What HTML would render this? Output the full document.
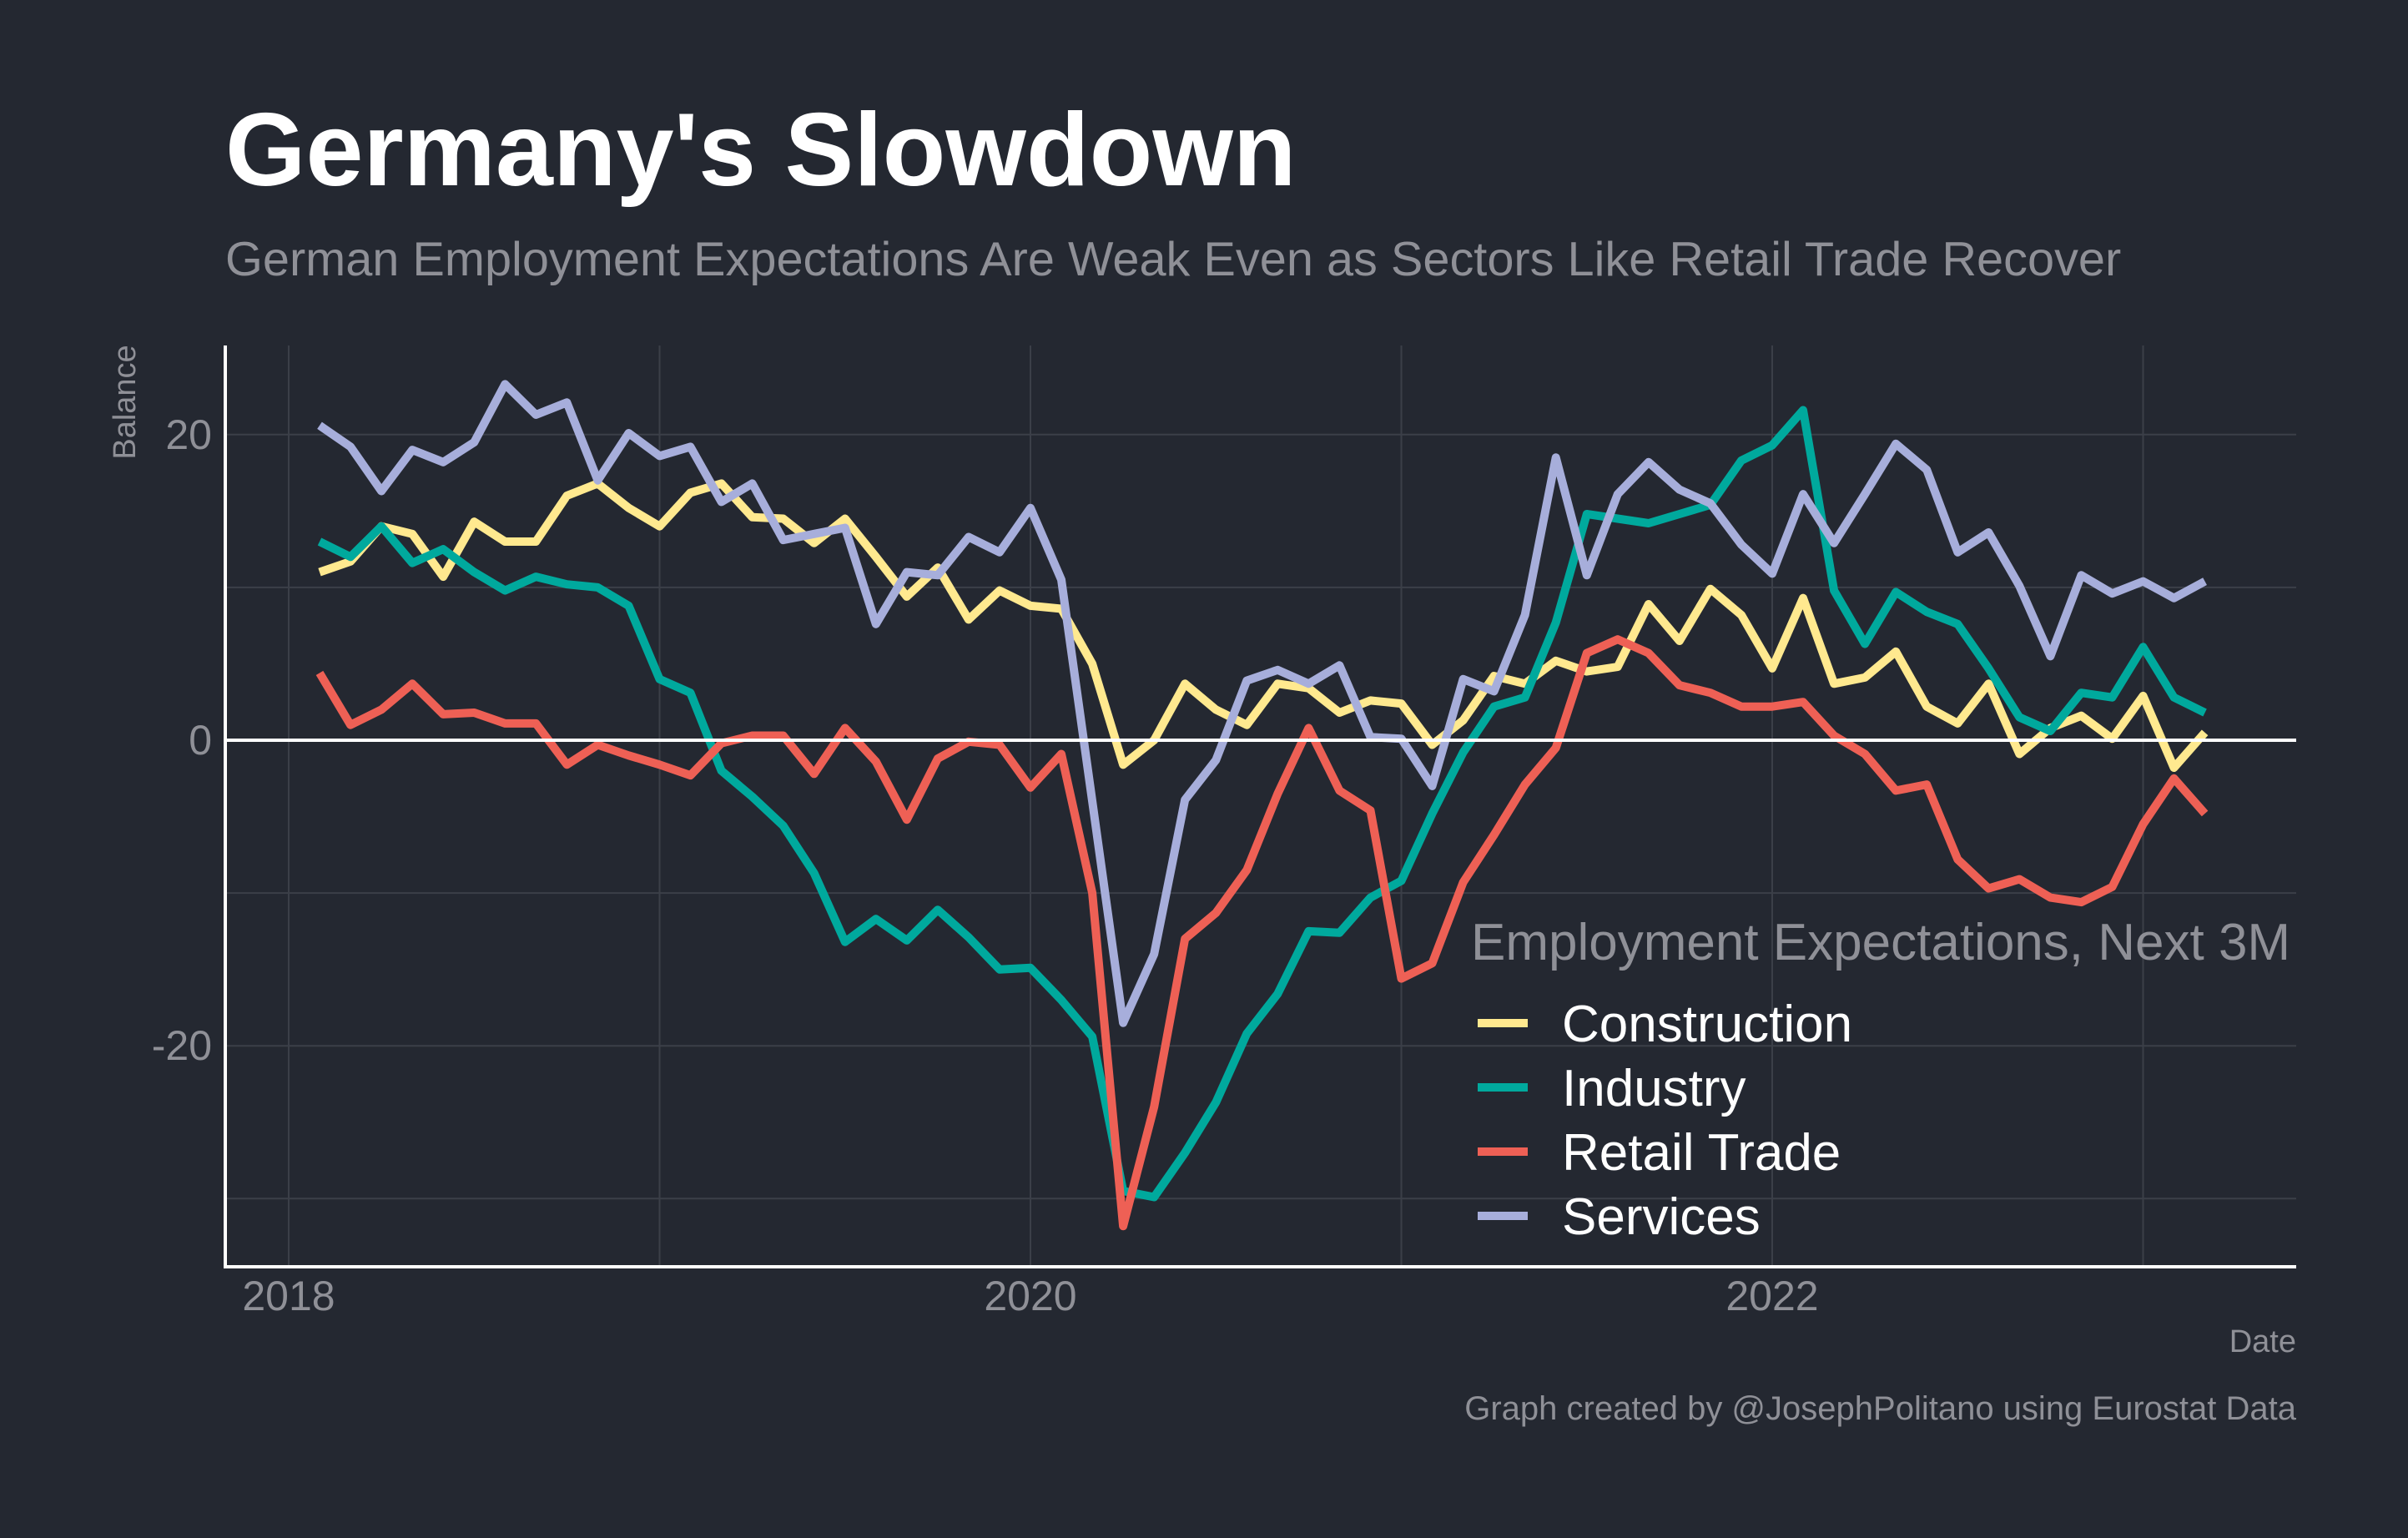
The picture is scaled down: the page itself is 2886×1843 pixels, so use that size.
<!DOCTYPE html>
<html><head><meta charset="utf-8"><style>
html,body{margin:0;padding:0;background:#242831;}
svg{display:block;}
text{font-family:"Liberation Sans",Arial,sans-serif;}
</style></head><body>
<svg id="chart" width="2886" height="1843" viewBox="0 0 2886 1843" xmlns="http://www.w3.org/2000/svg">
<rect x="0" y="0" width="2886" height="1843" fill="#242831"/>
<text x="270" y="222" fill="#ffffff" font-size="124" font-weight="bold">Germany's Slowdown</text>
<text x="270" y="330" fill="#8f9097" font-size="57.7">German Employment Expectations Are Weak Even as Sectors Like Retail Trade Recover</text>
<g id="grid"></g>
<g id="series"></g>
<g id="axes"></g>
<text x="0" y="0" transform="translate(162,482) rotate(-90)" text-anchor="middle" fill="#8f9097" font-size="38">Balance</text>
<text x="2752" y="1620" text-anchor="end" fill="#8f9097" font-size="38">Date</text>
<text x="2752" y="1701" text-anchor="end" fill="#8f9097" font-size="40">Graph created by @JosephPolitano using Eurostat Data</text>
<g id="legend">
<text x="1763" y="1150" fill="#8f9097" font-size="62">Employment Expectations, Next 3M</text>
</g>
</svg>
<script>
const years = [2018,2019,2020,2021,2022,2023];
const yearLabels = ["2018","2020","2022"];
const yTicks = [-20,0,20];
const yGrid = [-30,-20,-10,10,20];
const seriesNames = ["Construction","Industry","Retail Trade","Services"];
const construction = [11,11.7,14,13.5,10.7,14.3,13,13,16,16.8,15.2,14,16.2,16.8,14.6,14.5,12.9,14.5,12,9.4,11.3,7.9,9.8,8.8,8.6,5,-1.6,0,3.7,2,1,3.7,3.4,1.8,2.6,2.4,-0.3,1.3,4.2,3.7,5.2,4.5,4.8,8.9,6.5,9.9,8.2,4.7,9.3,3.7,4.1,5.8,2.2,1.1,3.7,-0.9,0.8,1.6,0.1,2.9,-1.8,0.5];
const industry = [13,12,14,11.6,12.5,11,9.8,10.7,10.2,10,8.8,4,3.1,-2,-3.7,-5.6,-8.7,-13.2,-11.7,-13.1,-11.1,-12.9,-15,-14.9,-17,-19.4,-29.5,-29.9,-27,-23.7,-19.2,-16.6,-12.5,-12.6,-10.3,-9.2,-4.8,-0.8,2.2,2.8,7.7,14.8,14.5,14.2,14.8,15.4,18.3,19.3,21.6,9.8,6.3,9.7,8.4,7.6,4.7,1.5,0.6,3.1,2.8,6.1,2.8,1.8];
const retail = [4.4,1,2,3.7,1.7,1.8,1.1,1.1,-1.6,-0.3,-1,-1.6,-2.3,-0.2,0.3,0.3,-2.2,0.8,-1.4,-5.2,-1.2,-0.1,-0.3,-3.1,-0.9,-10,-31.8,-24,-13,-11.3,-8.5,-3.5,0.8,-3.3,-4.6,-15.6,-14.6,-9.3,-6.2,-2.9,-0.5,5.7,6.6,5.7,3.6,3.1,2.2,2.2,2.5,0.3,-0.9,-3.3,-2.9,-7.8,-9.7,-9.1,-10.3,-10.6,-9.6,-5.5,-2.5,-4.8];
const services = [20.6,19.2,16.3,19,18.2,19.5,23.3,21.3,22.1,17,20.1,18.6,19.2,15.6,16.8,13.1,13.5,13.9,7.6,11,10.8,13.3,12.3,15.2,10.5,-4,-18.5,-14,-3.9,-1.3,3.9,4.6,3.7,4.9,0.2,0.1,-3,4,3.2,8.2,18.5,10.8,16.1,18.2,16.4,15.5,12.8,10.9,16.1,12.9,16.1,19.4,17.7,12.3,13.6,10.1,5.5,10.8,9.6,10.4,9.3,10.4];
const startYear = 2018, startMonth = 1; // Feb 2018 (0-based month)

const NS = "http://www.w3.org/2000/svg";
const L = 270, R = 2752, T = 414, B = 1518;
function xScale(t){ return 346 + (t - 2018) * 444.5; }
function yScale(v){ return 887 - v * 18.31; }
function mk(tag, attrs, parent){ const e = document.createElementNS(NS, tag); for (const k in attrs) e.setAttribute(k, attrs[k]); parent.appendChild(e); return e; }

const grid = document.getElementById('grid');
yGrid.forEach(v => {
  const l = mk('line', {x1:L, x2:R, y1:yScale(v), y2:yScale(v), stroke:'#3b3f48', 'stroke-width':2}, grid);
  
  
});
years.forEach(y => {
  const l = mk('line', {x1:xScale(y), x2:xScale(y), y1:T, y2:B, stroke:'#3b3f48', 'stroke-width':2}, grid);
  
  
});

const axes = document.getElementById('axes');
const zl = mk('line', {x1:L, x2:R, y1:yScale(0), y2:yScale(0), stroke:'#ffffff', 'stroke-width':4}, axes);


const ya = mk('line', {x1:L, x2:L, y1:T, y2:B+2, stroke:'#ffffff', 'stroke-width':4}, axes);


const xa = mk('line', {x1:L-2, x2:R, y1:B, y2:B, stroke:'#ffffff', 'stroke-width':4}, axes);


yTicks.forEach(v => {
  const t = mk('text', {x:254, y:yScale(v)+17, 'text-anchor':'end', fill:'#8f9097', 'font-size':50}, axes);
  t.textContent = String(v);
  
  
});
yearLabels.forEach(s => {
  const t = mk('text', {x:xScale(+s), y:1570, 'text-anchor':'middle', fill:'#8f9097', 'font-size':50}, axes);
  t.textContent = s;
  
  
});

const colors = ['#FFE98F','#00A99D','#EE6055','#A7AEDB'];
const data = [construction, industry, retail, services];
const sg = document.getElementById('series');
data.forEach((arr, si) => {
  const pts = arr.map((v, i) => {
    const t = startYear + (startMonth + i) / 12;
    return xScale(t).toFixed(1) + ',' + yScale(v).toFixed(1);
  }).join(' ');
  const p = mk('polyline', {points:pts, fill:'none', stroke:colors[si], 'stroke-width':10, 'stroke-linejoin':'round'}, sg);
  
  
});

const lg = document.getElementById('legend');
seriesNames.forEach((n, i) => {
  const cy = 1226 + i * 77;
  const l = mk('line', {x1:1771, x2:1831, y1:cy, y2:cy, stroke:colors[i], 'stroke-width':10}, lg);
  
  
  const t = mk('text', {x:1872, y:cy+22, fill:'#ffffff', 'font-size':62}, lg);
  t.textContent = n;
  
  
});
</script>
</body></html>
